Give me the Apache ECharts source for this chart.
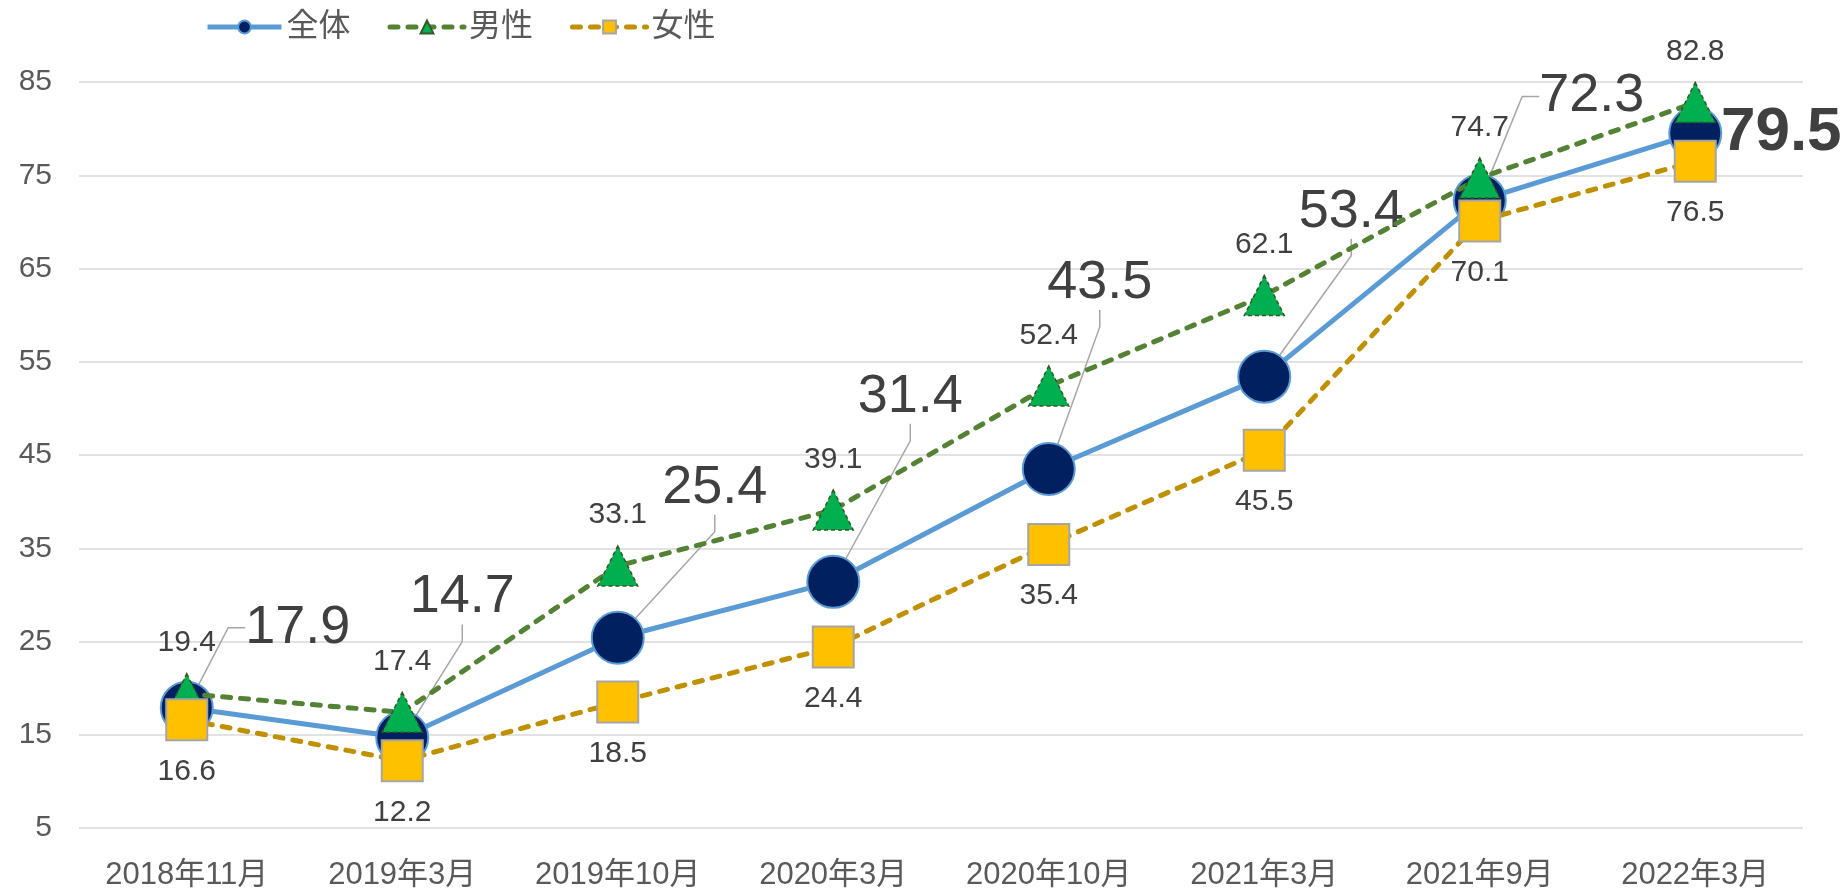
<!DOCTYPE html>
<html>
<head>
<meta charset="utf-8">
<script src="https://cdn.jsdelivr.net/npm/echarts@6/dist/echarts.min.js"></script>
<style>
  html, body { margin: 0; padding: 0; background: #fff; }
  #main { width: 1845px; height: 891px; }
</style>
</head>
<body>
<div id="main"></div>
<script>
const categories = ['2018年11月', '2019年3月', '2019年10月', '2020年3月', '2020年10月', '2021年3月', '2021年9月', '2022年3月'];
const totalValues = [17.9, 14.7, 25.4, 31.4, 43.5, 53.4, 72.3, 79.5];
const maleValues = [19.4, 17.4, 33.1, 39.1, 52.4, 62.1, 74.7, 82.8];
const femaleValues = [16.6, 12.2, 18.5, 24.4, 35.4, 45.5, 70.1, 76.5];
const yMin = 5, yMax = 85, yStep = 10;

// where the big 全体 labels sit, relative to their point (px)
const totalLabelShift = [[111, -80], [60, -140], [97, -150], [77, -185], [51, -186], [87, -165], [112, -104], [86, 0]];

const FONT = "'Liberation Sans', Arial, 'Noto Sans CJK JP', sans-serif";

const myChart = echarts.init(document.getElementById('main'));
const option = {
    backgroundColor: '#fff',
    textStyle: {fontFamily: FONT},
    animation: false,
    graphic: [{type: 'text', left: 14, top: -21, style: {text: '%', fontSize: 26, fill: '#000', fontFamily: FONT}}],
    legend: {
        left: 200, top: 6,
        itemWidth: 74, itemHeight: 16, itemGap: 37,
        lineStyle: {width: 5},
        textStyle: {fontSize: 32, color: '#595959', fontFamily: FONT},
        data: ['全体', '男性', '女性']
    },
    grid: {left: 79, right: 42, top: 82, bottom: 63},
    xAxis: {
        type: 'category', data: categories,
        axisLine: {show: false}, axisTick: {show: false},
        axisLabel: {fontSize: 31, color: '#595959', margin: 32}
    },
    yAxis: {
        type: 'value', min: yMin, max: yMax, interval: yStep,
        axisLine: {show: false}, axisTick: {show: false},
        axisLabel: {fontSize: 30, color: '#595959', margin: 27},
        splitLine: {lineStyle: {color: '#D9D9D9', width: 1.5}}
    },
    series: [{
        name: '全体', type: 'line', z: 2,
        symbol: 'circle', symbolSize: 52,
        lineStyle: {color: '#5B9BD5', width: 5},
        itemStyle: {color: '#002060', borderColor: '#5B9BD5', borderWidth: 2},
        label: {show: true, position: 'inside', fontSize: 54, color: '#404040'},
        labelLine: {show: true, length2: 17, lineStyle: {color: '#A6A6A6', width: 1.5}},
        labelLayout: function (p) {
            const s = totalLabelShift[p.dataIndex];
            return {dx: s[0], dy: s[1]};
        },
        data: totalValues.map((v, i) => i === totalValues.length - 1
            ? {value: v, label: {fontSize: 62, fontWeight: 'bold'}, labelLine: {show: false}}
            : v)
    }, {
        name: '男性', type: 'line', z: 3,
        symbol: 'triangle', symbolSize: [40, 40],
        lineStyle: {color: '#548235', width: 5, type: [8, 10], cap: 'round'},
        itemStyle: {color: '#00B050', borderColor: '#375623', borderWidth: 1.5, borderType: [4, 3]},
        label: {show: true, position: 'top', distance: 15, fontSize: 30, color: '#404040'},
        data: maleValues
    }, {
        name: '女性', type: 'line', z: 4,
        symbol: 'rect', symbolSize: 41,
        lineStyle: {color: '#BF9000', width: 5, type: [8, 10], cap: 'round'},
        itemStyle: {color: '#FFC000', borderColor: '#A5A5A5', borderWidth: 2},
        label: {show: true, position: 'bottom', distance: 15, fontSize: 30, color: '#404040'},
        data: femaleValues
    }]
};
myChart.setOption(option);
</script>
</body>
</html>
